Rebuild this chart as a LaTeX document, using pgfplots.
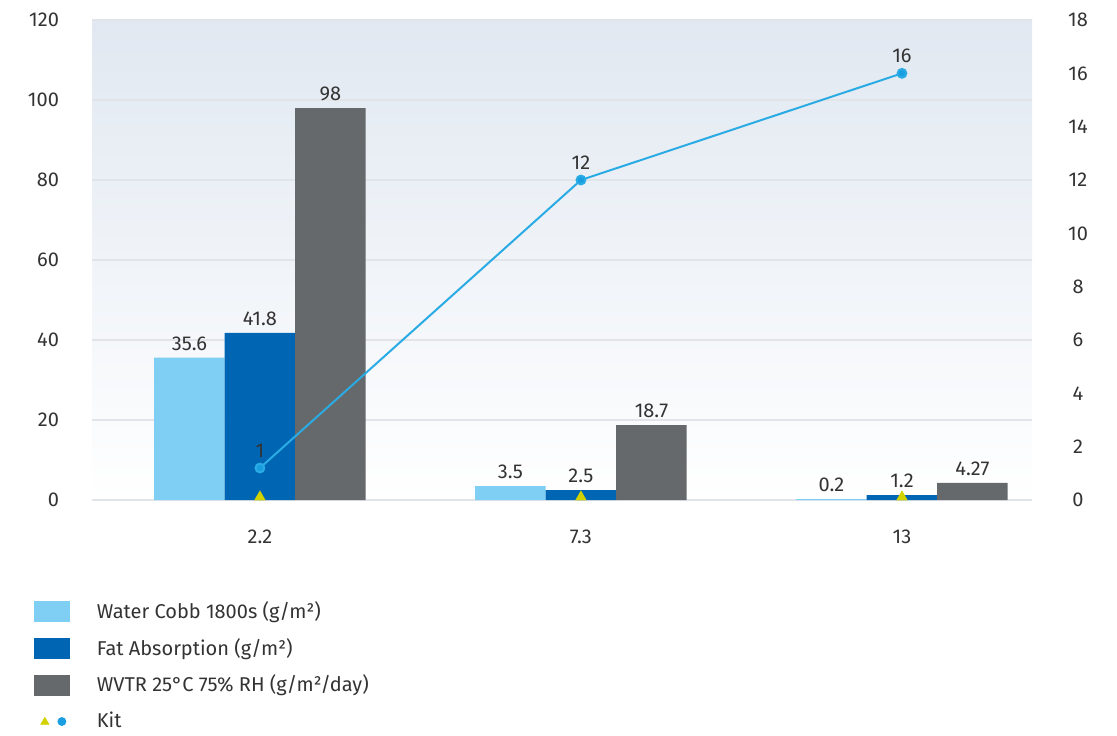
\documentclass[border=0pt]{standalone}
\usepackage{fontspec}
\setmainfont{Fira Sans}
\usepackage{pgfplots}
\pgfplotsset{compat=1.18}
\usepackage{pgfplotstable}

\definecolor{cobb}{HTML}{7FCFF5}
\definecolor{fat}{HTML}{0066B3}
\definecolor{wvtr}{HTML}{65696B}
\definecolor{kitline}{HTML}{2AABE4}
\definecolor{kitdot}{HTML}{1A9EE2}
\definecolor{kittri}{HTML}{D2D200}
\definecolor{txt}{HTML}{333333}
\definecolor{gridc}{HTML}{E1E5EA}
\definecolor{bgtop}{HTML}{E1E8F1}

% bar values, left axis
\pgfplotstableread{
x cobb fat wvtr
0 35.6 41.8 98
1 3.5 2.5 18.7
2 0.2 1.2 4.27
}\bars

% Kit, right axis
\pgfplotstableread{
x kit lbl
0 1.2 1
1 12 12
2 16 16
}\kit

\pgfplotsset{
  common/.style={
    scale only axis, width=470pt, height=240pt,
    at={(0,0)}, anchor=south west,
    xmin=-0.523, xmax=2.405,
    font=\fontsize{10}{12}\selectfont,
    /pgf/number format/assume math mode=true,
    tick style={draw=none},
    ticklabel style={text=txt},
    axis line style={draw=none},
  },
  swatch/.style={legend image code/.code={
    \fill[#1] (0pt,-5pt) rectangle (17.5pt,5pt);
    \path[draw=none, fill=none] (0pt,-9.15pt) rectangle (29pt,9.15pt);}},
}

\begin{document}
\begin{tikzpicture}
\path[use as bounding box] (-46pt,-117.5pt) rectangle (512.5pt,250pt);

\begin{axis}[common,
  ymin=0, ymax=120, ytick={0,20,...,120},
  xtick={0,1,2}, xticklabels={2.2,7.3,13},
  xticklabel style={yshift=-7pt},
  yticklabel style={xshift=-13pt},
  ymajorgrids, major grid style={gridc, line width=0.6pt},
  axis background/.style={top color=bgtop, middle color=white, bottom color=white},
  ybar=0pt, bar width=35.25pt,
  nodes near coords,
  every node near coord/.append style={text=txt, font=\fontsize{10}{12}\selectfont},
]
\addplot[fill=cobb, draw=none] table[x=x, y=cobb] {\bars};
\addplot[fill=fat, draw=none] table[x=x, y=fat] {\bars};
\addplot[fill=wvtr, draw=none] table[x=x, y=wvtr] {\bars};
\end{axis}

\begin{axis}[common,
  ymin=0, ymax=18, ytick={0,2,...,18},
  axis y line*=right, xtick=\empty,
  yticklabel style={anchor=center, xshift=23pt},
  clip=false,
  legend style={at={(-0.068,-0.1854)}, anchor=north west, draw=none, fill=none,
    font=\fontsize{10}{12}\selectfont, text=txt, row sep=0pt,
    /tikz/every odd column/.append style={column sep=0pt}},
  legend cell align=left,
]
\addplot[kitline, line width=1pt, mark=*, mark size=2.2pt,
  mark options={fill=kitdot, draw=none},
  nodes near coords, point meta=explicit symbolic,
  every node near coord/.append style={text=txt, anchor=south, yshift=1.5pt},
  forget plot] table[x=x, y=kit, meta=lbl] {\kit};
\addplot[kittri, only marks, mark=triangle*, mark size=2.9pt,
  mark options={fill=kittri, draw=kittri, yshift=1.5pt}, forget plot]
  coordinates {(0,0) (1,0) (2,0)};

\addlegendimage{swatch=cobb}
\addlegendentry{Water Cobb 1800s (g/m²)}
\addlegendimage{swatch=fat}
\addlegendentry{Fat Absorption (g/m²)}
\addlegendimage{swatch=wvtr}
\addlegendentry{WVTR 25°C 75\% RH (g/m²/day)}
\addlegendimage{legend image code/.code={
  \fill[kittri] (5pt,2pt) -- (3pt,-1.4pt) -- (7pt,-1.4pt) -- cycle;
  \fill[kitdot] (13.5pt,0pt) circle (2pt);
  \path[draw=none, fill=none] (0pt,-9.15pt) rectangle (29pt,9.15pt);}}
\addlegendentry{Kit}
\end{axis}
\end{tikzpicture}
\end{document}
